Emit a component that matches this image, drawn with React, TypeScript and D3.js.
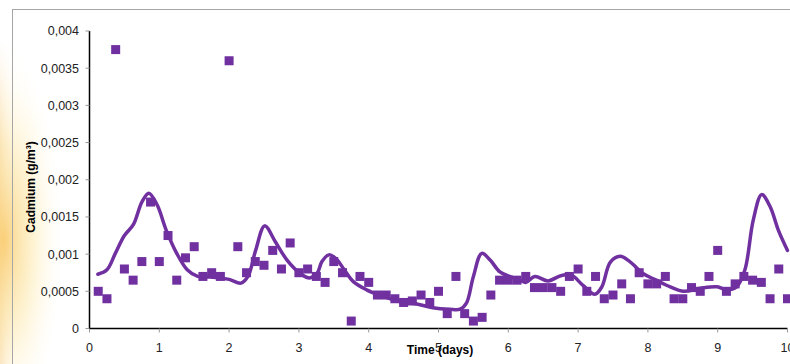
import * as d3 from 'd3'

const W = 790
const H = 364

// measured samples (days, g/m3)
const sampleTimes = [
  0.125, 0.25, 0.375, 0.5, 0.625, 0.75, 0.875, 1.0, 1.125, 1.25, 1.375, 1.5, 1.625, 1.75, 1.875, 2.0,
  2.125, 2.25, 2.375, 2.5, 2.625, 2.75, 2.875, 3.0, 3.125, 3.25, 3.375, 3.5, 3.625, 3.75, 3.875, 4.0,
  4.125, 4.25, 4.375, 4.5, 4.625, 4.75, 4.875, 5.0, 5.125, 5.25, 5.375, 5.5, 5.625, 5.75, 5.875, 6.0,
  6.125, 6.25, 6.375, 6.5, 6.625, 6.75, 6.875, 7.0, 7.125, 7.25, 7.375, 7.5, 7.625, 7.75, 7.875, 8.0,
  8.125, 8.25, 8.375, 8.5, 8.625, 8.75, 8.875, 9.0, 9.125, 9.25, 9.375, 9.5, 9.625, 9.75, 9.875, 10.0,
]
const sampleValues = [
  0.0005, 0.0004, 0.00375, 0.0008, 0.00065, 0.0009, 0.0017, 0.0009, 0.00125, 0.00065, 0.00095, 0.0011, 0.0007, 0.00075, 0.0007, 0.0036,
  0.0011, 0.00075, 0.0009, 0.00085, 0.00105, 0.0008, 0.00115, 0.00075, 0.0008, 0.0007, 0.00062, 0.0009, 0.00075, 0.0001, 0.0007, 0.00062,
  0.00045, 0.00045, 0.0004, 0.00035, 0.00037, 0.00045, 0.00035, 0.0005, 0.0002, 0.0007, 0.0002, 0.0001, 0.00015, 0.00045, 0.00065, 0.00065,
  0.00065, 0.0007, 0.00055, 0.00055, 0.00055, 0.0005, 0.0007, 0.0008, 0.0005, 0.0007, 0.0004, 0.00045, 0.0006, 0.0004, 0.00075, 0.0006,
  0.0006, 0.0007, 0.0004, 0.0004, 0.00055, 0.0005, 0.0007, 0.00105, 0.0005, 0.0006, 0.0007, 0.00065, 0.00062, 0.0004, 0.0008, 0.0004,
]

// smoothed model curve
const modelTimes = [
  0.12, 0.25, 0.37, 0.5, 0.63, 0.75, 0.85, 0.97, 1.1, 1.25, 1.4, 1.55, 1.77, 2.0, 2.17, 2.27, 2.38, 2.51, 2.66,
  2.83, 3.02, 3.15, 3.26, 3.33, 3.43, 3.53, 3.65, 3.78, 3.97, 4.21, 4.45, 4.69, 4.92, 5.16, 5.31, 5.4, 5.5,
  5.62, 5.74, 5.88, 6.02, 6.17, 6.25, 6.38, 6.57, 6.75, 6.9, 7.07, 7.24, 7.34, 7.46, 7.6, 7.74, 7.93, 8.12,
  8.32, 8.51, 8.75, 8.99, 9.13, 9.27, 9.39, 9.51, 9.63, 9.75, 9.87, 10.0,
]
const modelValues = [
  0.00073, 0.00079, 0.00101, 0.00125, 0.0014, 0.0017, 0.00182, 0.00166, 0.00132, 0.00101, 0.00079, 0.0007, 0.00069, 0.00066, 0.00061, 0.0007, 0.00105, 0.00138, 0.00117,
  0.00092, 0.00074, 0.00068, 0.00074, 0.0009, 0.00099, 0.00094, 0.00079, 0.00063, 0.00052, 0.00043, 0.00036, 0.00033, 0.00028, 0.00026, 0.00026, 0.00034, 0.0007,
  0.00101, 0.00092, 0.00076, 0.0007, 0.00065, 0.00062, 0.0007, 0.00064, 0.00071, 0.00072, 0.00058, 0.00046, 0.00056, 0.00089, 0.00097, 0.0009, 0.00074, 0.00065,
  0.00056, 0.0005, 0.00054, 0.00056, 0.00052, 0.00056, 0.00079, 0.00146, 0.0018, 0.00164, 0.00132, 0.00105,
]

const xTicks = [0, 1, 2, 3, 4, 5, 6, 7, 8, 9, 10]
const yTicks = [0, 0.0005, 0.001, 0.0015, 0.002, 0.0025, 0.003, 0.0035, 0.004]

const PURPLE = '#7030A0'
const FONT = '"Liberation Sans", Arial, sans-serif'

export default function App() {
  const x = d3.scaleLinear().domain([0, 10]).range([89.5, 787.5])
  const y = d3.scaleLinear().domain([0, 0.004]).range([328.5, 31])

  const pts: [number, number][] = modelTimes.map((t, i) => [t, modelValues[i]])
  const path = d3
    .line<[number, number]>()
    .x((d) => x(d[0]))
    .y((d) => y(d[1]))
    .curve(d3.curveCatmullRom.alpha(0.5))(pts)

  const fmt = (v: number) => String(v).replace('.', ',')
  const sq = 9

  return (
    <svg
      width={W}
      height={H}
      style={{ position: 'absolute', left: 0, top: 0, background: '#fff' }}
      fontFamily={FONT}
    >
      <defs>
        <radialGradient
          id="glow"
          cx="0"
          cy="0"
          r="1"
          gradientUnits="userSpaceOnUse"
          gradientTransform="translate(4,240) scale(58,190)"
        >
          <stop offset="0" stopColor="#f9c760" stopOpacity="0.8" />
          <stop offset="0.5" stopColor="#fce39a" stopOpacity="0.45" />
          <stop offset="1" stopColor="#fff8e0" stopOpacity="0" />
        </radialGradient>
        <linearGradient id="edge" x1="0" y1="0" x2="1" y2="0">
          <stop offset="0" stopColor="#f8d3a4" stopOpacity="0.6" />
          <stop offset="1" stopColor="#fff" stopOpacity="0" />
        </linearGradient>
        <linearGradient id="edgeFade" x1="0" y1="0" x2="0" y2="1">
          <stop offset="0" stopColor="#fff" stopOpacity="0" />
          <stop offset="0.3" stopColor="#fff" stopOpacity="1" />
        </linearGradient>
        <mask id="edgeMask">
          <rect x={0} y={40} width={20} height={H} fill="url(#edgeFade)" />
        </mask>
      </defs>
      <rect x={0} y={0} width={W} height={H} fill="#fff" />
      <rect x={0} y={40} width={16} height={H - 40} fill="url(#edge)" mask="url(#edgeMask)" />
      <rect x={0} y={0} width={80} height={H} fill="url(#glow)" />
      <rect x={12.5} y={9.5} width={W} height={H} fill="none" stroke="#a6a6a6" strokeWidth={1} />

      {/* y axis */}
      <line x1={x(0)} x2={x(0)} y1={y(0.004)} y2={y(0) + 0.5} stroke="#000" strokeWidth={1.5} />
      {yTicks.map((t) => (
        <g key={'y' + t}>
          <line x1={x(0) - 4} x2={x(0)} y1={y(t)} y2={y(t)} stroke="#999" />
          <text x={79} y={y(t)} dy="0.35em" textAnchor="end" fontSize={12.5} fill="#222">
            {fmt(t)}
          </text>
        </g>
      ))}
      {/* x axis */}
      <line x1={x(0) - 0.5} x2={x(10)} y1={y(0)} y2={y(0)} stroke="#000" strokeWidth={1.5} />
      {xTicks.map((t) => (
        <g key={'x' + t}>
          <line x1={x(t)} x2={x(t)} y1={y(0)} y2={y(0) + 4} stroke="#999" />
          <text x={x(t)} y={351.5} textAnchor="middle" fontSize={12.5} fill="#222">
            {t}
          </text>
        </g>
      ))}

      <path d={path ?? ''} fill="none" stroke={PURPLE} strokeWidth={3.5} strokeLinejoin="round" strokeLinecap="round" />

      {sampleTimes.map((t, i) => (
        <rect
          key={'p' + i}
          x={x(t) - sq / 2}
          y={y(sampleValues[i]) - sq / 2}
          width={sq}
          height={sq}
          fill={PURPLE}
        />
      ))}

      <text x={440} y={354} textAnchor="middle" fontSize={12} fontWeight="bold" fill="#000">
        Time (days)
      </text>
      <text
        transform={`translate(35,187) rotate(-90)`}
        textAnchor="middle"
        fontSize={12}
        fontWeight="bold"
        fill="#000"
      >
        Cadmium (g/m³)
      </text>
    </svg>
  )
}
